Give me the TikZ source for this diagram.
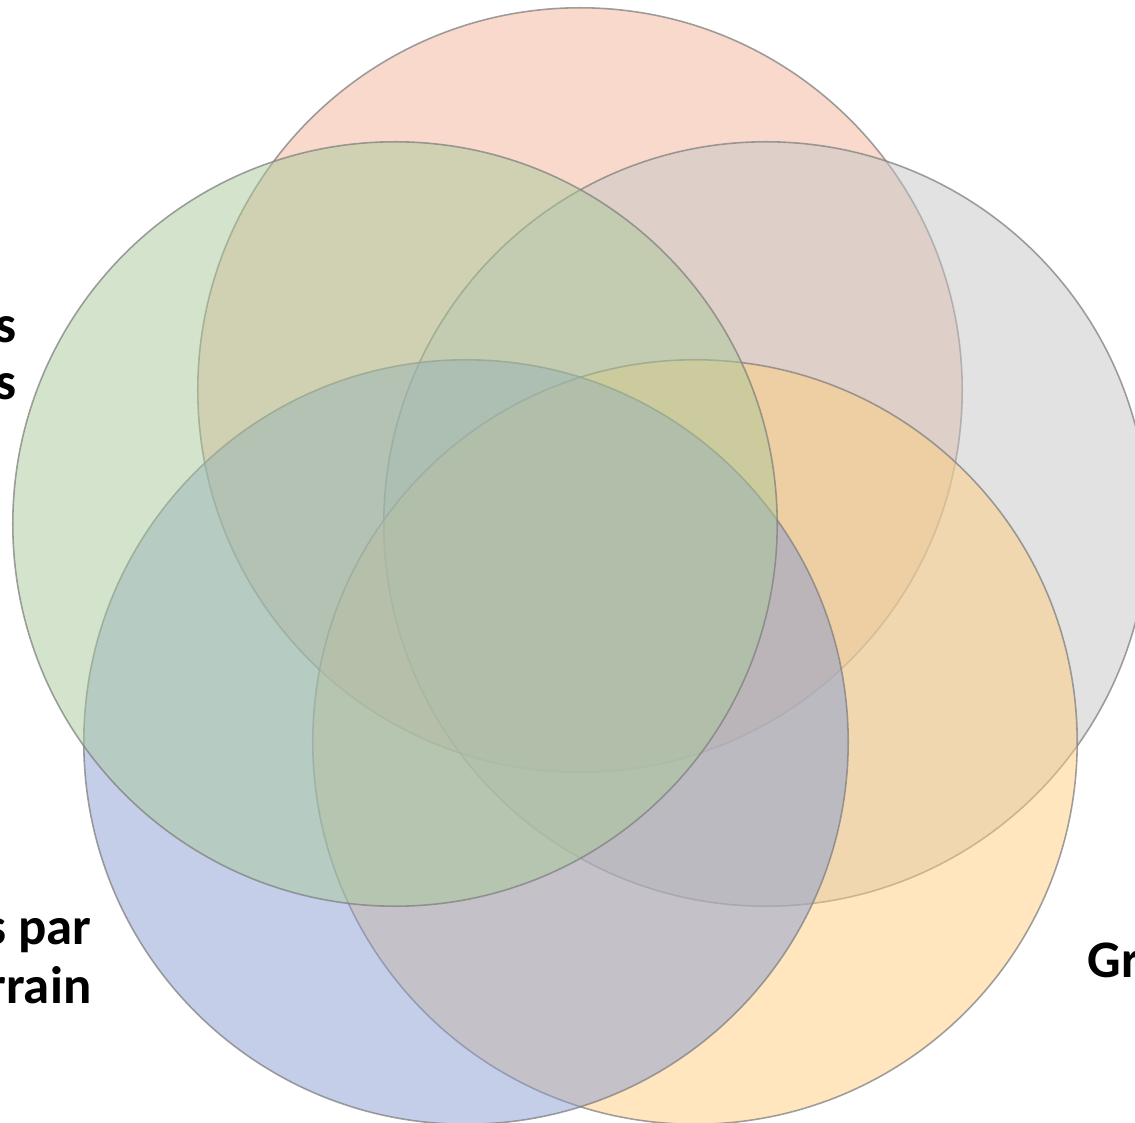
\documentclass[tikz,border=0pt]{standalone}
\usepackage{fontspec}
\setmainfont{Carlito}
\usetikzlibrary{positioning}
\definecolor{vennred}{RGB}{241,179,153}
\definecolor{venngray}{RGB}{197,197,197}
\definecolor{vennyellow}{RGB}{255,205,127}
\definecolor{vennblue}{RGB}{137,157,211}
\definecolor{venngreen}{RGB}{169,201,153}

\begin{document}
\begin{tikzpicture}
	[x=0.01cm, y=0.01cm, main/.style = {draw=black!50, line width=0.45pt, circle, minimum size=7.64cm, inner sep=0pt, fill opacity=0.5, draw opacity=0.75}, lbl/.style = {font=\fontsize{15}{17}\selectfont\bfseries, inner sep=0pt}]
	\useasboundingbox (0,0) rectangle (1135,1123);
	\node[main, fill=vennred] (1) at (580,733) {};
	\node[main, fill=venngray] (2) at (766,599) {};
	\node[main, fill=vennyellow] (3) at (695,381) {};
	\node[main, fill=vennblue] (4) at (466,381) {};
	\node[main, fill=venngreen] (5) at (395,599) {};
	\node[lbl, anchor=base east] (6) at (17,781) {s};
	\node[lbl, anchor=base east] (7) at (17,723) {s};
	\node[lbl, anchor=base east] (8) at (92,178) {s par};
	\node[lbl, anchor=base east] (9) at (92,120) {rrain};
	\node[lbl, anchor=base west] (10) at (1087,145) {Gr};
\end{tikzpicture}
\end{document}
